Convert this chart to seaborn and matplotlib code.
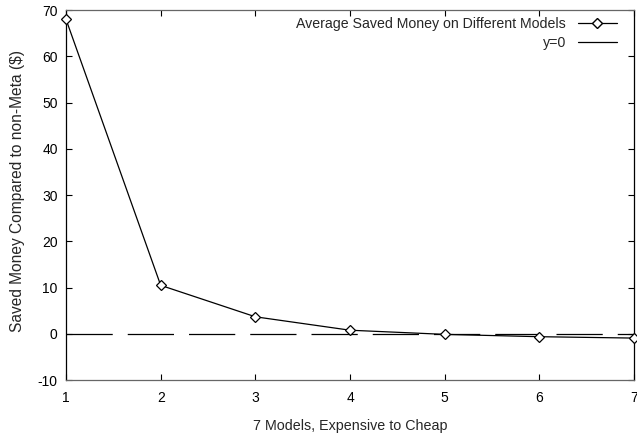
import matplotlib
matplotlib.use("Agg")
import matplotlib.pyplot as plt
import seaborn as sns
import pandas as pd
from matplotlib.lines import Line2D

models = [1, 2, 3, 4, 5, 6, 7]
saved = [68.0, 10.5, 3.7, 0.8, -0.1, -0.6, -0.9]
x_ticks = [1, 2, 3, 4, 5, 6, 7]
y_ticks = [-10, 0, 10, 20, 30, 40, 50, 60, 70]

sns.set_theme(style="ticks")
plt.rcParams['font.family'] = ['Liberation Sans', 'DejaVu Sans']
plt.rcParams['font.size'] = 10
plt.rcParams['axes.unicode_minus'] = False

df = pd.DataFrame({"model": models, "saved": saved})

fig = plt.figure(figsize=(6.37, 4.36), dpi=100)
ax = fig.add_axes([0.1036, 0.128, 0.892, 0.849])

ax.axhline(0, color="black", lw=0.9, dashes=(37, 12), zorder=1)
sns.lineplot(data=df, x="model", y="saved", ax=ax, color="black", lw=0.9,
             marker="D", markersize=5.5, markerfacecolor="white",
             markeredgecolor="black", markeredgewidth=0.9, zorder=3, clip_on=False)

ax.set_xlim(1, 7)
ax.set_ylim(-10, 70)
ax.set_xticks(x_ticks)
ax.set_yticks(y_ticks)
ax.set_xlabel("7 Models, Expensive to Cheap", fontsize=10.3, labelpad=10)
ax.set_ylabel("Saved Money Compared to non-Meta ($)", fontsize=11.2)
ax.yaxis.set_label_coords(-0.072, 0.51)
ax.tick_params(direction="in", top=True, right=True, length=4, width=0.8,
               labelsize=10, colors="black")
ax.tick_params(axis="x", pad=8)
ax.tick_params(axis="y", pad=6)
for s in ax.spines.values():
    s.set_linewidth(0.9)
    s.set_color("black")
ax.spines["top"].set_color("#666666")
ax.spines["bottom"].set_color("#666666")

handles = [
    Line2D([], [], color="black", lw=0.9, marker="D", markersize=5,
           markerfacecolor="white", markeredgecolor="black"),
    Line2D([], [], color="black", lw=0.9),
]
ax.legend(handles, ["Average Saved Money on Different Models", "y=0"],
          loc="upper right", bbox_to_anchor=(1 - 17 / 568, 1 - 7 / 370),
          frameon=False, markerfirst=False, fontsize=10.2,
          handlelength=2.8, borderaxespad=0, labelspacing=0.38,
          handletextpad=0.8, borderpad=0)

fig.savefig("out.png", dpi=100)
